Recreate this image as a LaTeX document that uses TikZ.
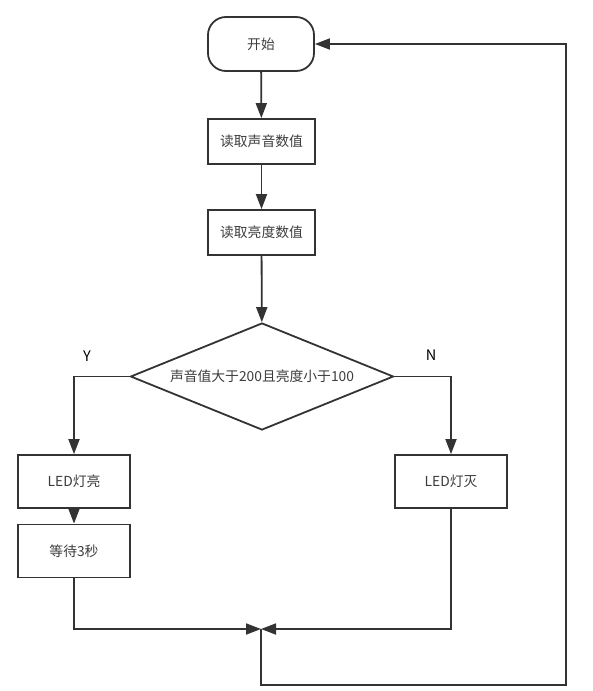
\documentclass[tikz,border=0pt]{standalone}
\usepackage{fontspec}
\usetikzlibrary{shapes.geometric,arrows.meta}
\newfontfamily\cjk{Noto Sans CJK SC}
\definecolor{linegray}{HTML}{333333}
\definecolor{textgray}{HTML}{3C3C3C}
\tikzset{%
    edge/.style={line width=1.8pt,draw=linegray,-{Triangle[length=15pt,width=11pt]}}
}

\begin{document}
\begin{tikzpicture}[x=1pt,y=-1pt,
        every node/.style={font=\cjk\fontsize{13.8}{16}\selectfont,text=textgray},
        term/.style={draw=linegray,line width=1.8pt,rounded corners=18pt,minimum width=106pt,minimum height=54pt,inner sep=0pt},
        proc/.style={draw=linegray,line width=1.8pt,minimum width=107pt,minimum height=45pt,inner sep=0pt},
        wide/.style={proc,minimum width=112pt,minimum height=53pt},
        cond/.style={diamond,draw=linegray,line width=1.8pt,aspect=2.46,minimum width=263pt,minimum height=107pt,inner sep=0pt},
        lbl/.style={text=black,font=\cjk\fontsize{14.5}{16}\selectfont}
        ]
        \useasboundingbox (0,0) rectangle (593,691);

        \node[term] (start) at (261,44){开始};
        \node[proc] (rs) at (261.5,141.5){读取声音数值};
        \node[proc] (rb) at (261.5,232.5){读取亮度数值};
        \node[cond] (dec) at (262,376.5){声音值大于200且亮度小于100};
        \node[wide] (on) at (74,481.5){LED灯亮};
        \node[wide] (off) at (451,481.5){LED灯灭};
        \node[wide] (wait) at (74,551){等待3秒};
        \coordinate (m) at (261,629);

        \node[lbl] (y) at (87,356){Y};
        \node[lbl] (n) at (431,355){N};

        \draw[edge] (start) -- (rs);
        \draw[edge] (rs) -- (rb);
        \draw[edge] (rb) -- (dec);
        \draw[edge] (dec.west) -| (on.north);
        \draw[edge] (dec.east) -| (off.north);
        \draw[edge] (on) -- (wait);
        \draw[edge] (wait.south) |- (m);
        \draw[edge] (off.south) |- (m);
        \draw[edge] (m) -- (261,685) -| (566,44) -- (start.east);
    \end{tikzpicture}
\end{document}
